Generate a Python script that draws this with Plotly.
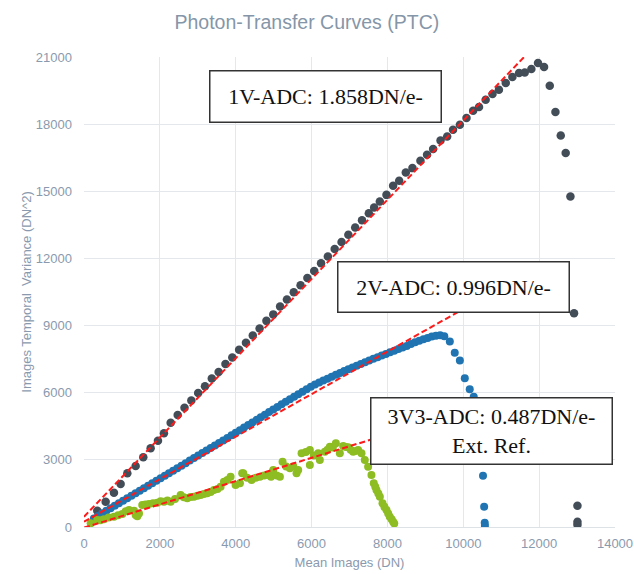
import plotly.graph_objects as go

# ---- data ----
v1_x = [350, 571, 790, 966, 1142, 1362, 1563, 1757, 1950, 2108,
        2285, 2470, 2650, 2830, 3010, 3190, 3370, 3550, 3730, 3910,
        4090, 4270, 4450, 4630, 4810, 4990, 5170, 5350, 5530, 5710,
        5890, 6070, 6250, 6430, 6610, 6790, 6970, 7150, 7330, 7510,
        7650, 7800, 7975, 8150, 8310, 8485, 8660, 8870, 9045, 9205,
        9400, 9575, 9730, 9910, 10085, 10260, 10415, 10590, 10770, 10940,
        11120, 11295, 11470, 11620, 11795, 11970, 12130, 12280, 12430, 12570,
        12700, 12825, 12920, 13010, 13010, 13010]
v1_y = [729, 1131, 1534, 1922, 2400, 2727, 3116, 3518, 3858, 4189,
        4663, 5000, 5330, 5650, 5990, 6290, 6640, 6930, 7280, 7570,
        7920, 8230, 8560, 8870, 9210, 9500, 9850, 10160, 10490, 10800,
        11130, 11440, 11780, 12090, 12420, 12730, 13060, 13380, 13710, 14020,
        14280, 14545, 14840, 15245, 15470, 15840, 16035, 16365, 16630, 16885,
        17270, 17450, 17750, 17975, 18270, 18600, 18765, 19090, 19345, 19540,
        19840, 20105, 20285, 20310, 20465, 20730, 20550, 19715, 18540, 17495,
        16710, 14765, 9555, 950, 237, 100]

v2_x = [260, 370, 480, 590, 700, 810, 920, 1030, 1140, 1250,
        1360, 1470, 1580, 1690, 1800, 1910, 2020, 2130, 2240, 2350,
        2460, 2570, 2680, 2790, 2900, 3010, 3120, 3230, 3340, 3450,
        3560, 3670, 3780, 3890, 4000, 4110, 4220, 4330, 4440, 4550,
        4660, 4770, 4880, 4990, 5100, 5210, 5320, 5430, 5540, 5650,
        5760, 5870, 5980, 6090, 6200, 6310, 6420, 6530, 6640, 6750,
        6860, 6970, 7080, 7190, 7300, 7410, 7520, 7630, 7740, 7850,
        7960, 8070, 8180, 8290, 8400, 8510, 8620, 8730, 8840, 8950,
        9060, 9170, 9280, 9390, 9500, 9645, 9775, 9910, 10040, 10170,
        10275, 10330, 10400, 10460, 10520, 10550, 10565, 10570]
v2_y = [385, 497, 609, 722, 834, 946, 1058, 1170, 1283, 1395,
        1507, 1619, 1731, 1844, 1956, 2068, 2180, 2292, 2405, 2517,
        2629, 2741, 2853, 2966, 3078, 3190, 3302, 3414, 3527, 3639,
        3751, 3863, 3979, 4094, 4210, 4325, 4441, 4556, 4672, 4787,
        4903, 5018, 5134, 5249, 5365, 5480, 5596, 5711, 5825, 5935,
        6045, 6155, 6265, 6370, 6456, 6542, 6628, 6714, 6800, 6886,
        6972, 7050, 7127, 7204, 7281, 7358, 7435, 7512, 7589, 7660,
        7735, 7810, 7880, 7950, 8020, 8085, 8180, 8250, 8320, 8390,
        8450, 8510, 8550, 8570, 8520, 8285, 7790, 7435, 6650, 6160,
        5825, 5200, 4300, 3300, 2295, 910, 190, 60]

v33_x = [176, 350, 430, 527, 650, 790, 900, 1010, 1100, 1186,
         1318, 1362, 1406, 1450, 1536, 1620, 1713, 1820, 1932, 2020,
         2108, 2200, 2284, 2400, 2548, 2630, 2722, 2810, 2898, 2990,
         3075, 3160, 3250, 3340, 3425, 3520, 3602, 3689, 3780, 3865,
         3997, 4111, 4171, 4199, 4300, 4418, 4530, 4638, 4750, 4857,
         4930, 4989, 5080, 5165, 5235, 5330, 5428, 5520, 5604, 5647,
         5736, 5850, 5955, 5955, 6060, 6175, 6218, 6350, 6420, 6482,
         6560, 6640, 6745, 6833, 6900, 6965, 7030, 7096, 7160, 7228,
         7316, 7403, 7491, 7579, 7640, 7680, 7711, 7760, 7800, 7870,
         7920, 7975, 8020, 8062, 8110, 8150, 8180]
v33_y = [164, 313, 300, 344, 420, 460, 530, 581, 700, 760,
         729, 537, 480, 600, 984, 1000, 1028, 1060, 1087, 1150,
         1131, 1180, 1131, 1250, 1431, 1330, 1283, 1340, 1355, 1400,
         1431, 1480, 1507, 1560, 1654, 1700, 1802, 2025, 2100, 2249,
         1878, 1954, 2400, 2400, 2200, 2101, 2200, 2249, 2300, 2325,
         2250, 2548, 2300, 2249, 2920, 2700, 2624, 2700, 2400, 2548,
         3295, 3350, 3443, 2772, 3200, 3295, 2996, 3367, 3450, 3590,
         3550, 3742, 3295, 3622, 3580, 3563, 3450, 3367, 3400, 3443,
         3295, 2996, 2696, 2325, 1954, 1800, 1654, 1500, 1355, 1060,
         900, 760, 600, 460, 350, 237, 160]

fit1_x = [0, 11700]
fit1_y = [460, 21170]
fit2_x = [0, 10500]
fit2_y = [237, 10212]
fit33_x = [0, 8800]
fit33_y = [-30, 4546]

labels = ["1V-ADC: 1.858DN/e-", "2V-ADC: 0.996DN/e-", "3V3-ADC: 0.487DN/e-<br>Ext. Ref."]
x_ticks = [0, 2000, 4000, 6000, 8000, 10000, 12000, 14000]
y_ticks = [0, 3000, 6000, 9000, 12000, 15000, 18000, 21000]

DARK = "#434d58"
BLUE = "#1f74b1"
GREEN = "#8dbd22"
RED = "#ff1a1a"
AXC = "#8a9aae"

fig = go.Figure()
fig.add_trace(go.Scatter(x=v1_x, y=v1_y, mode="markers",
                         marker=dict(color=DARK, size=8.5), showlegend=False))
fig.add_trace(go.Scatter(x=v2_x, y=v2_y, mode="markers",
                         marker=dict(color=BLUE, size=8), showlegend=False))
fig.add_trace(go.Scatter(x=v33_x, y=v33_y, mode="markers",
                         marker=dict(color=GREEN, size=8), showlegend=False))
for fx, fy in [(fit1_x, fit1_y), (fit2_x, fit2_y), (fit33_x, fit33_y)]:
    fig.add_trace(go.Scatter(x=fx, y=fy, mode="lines",
                             line=dict(color=RED, width=2, dash="6px,3px"),
                             showlegend=False))

box_pos = [(0.4557, 0.9149, 228, 48), (0.695, 0.5096, 228, 47), (0.7665, 0.2053, 238, 63)]
for txt, (bx, by, bw, bh) in zip(labels, box_pos):
    fig.add_annotation(x=bx, y=by, xref="paper", yref="paper",
                       xanchor="center", yanchor="middle",
                       text=txt, showarrow=False, align="center",
                       width=bw, height=bh, valign="middle",
                       font=dict(family="Liberation Serif", size=22, color="#111111"),
                       bgcolor="white", bordercolor="#333333", borderwidth=1.5, borderpad=1)

fig.update_layout(
    width=634, height=574,
    margin=dict(l=84, r=19, t=57, b=47),
    paper_bgcolor="white", plot_bgcolor="white",
    font=dict(family="Liberation Sans", color=AXC),
    title=dict(text="Photon-Transfer Curves (PTC)", x=0.484, xref="container",
               y=0.962, yref="container", yanchor="middle", xanchor="center",
               font=dict(size=19.5, color="#8596a8")),
    xaxis=dict(range=[0, 14000], tickvals=x_ticks, ticktext=[str(v) for v in x_ticks],
               showgrid=True, gridcolor="#e4e8ec", gridwidth=1, zeroline=False,
               showline=True, linecolor="#dde2e7", automargin=False,
               tickfont=dict(size=13, color=AXC), ticklabelstandoff=4,
               title=dict(text="Mean Images (DN)", font=dict(size=13, color=AXC), standoff=8)),
    yaxis=dict(range=[0, 21000], tickvals=y_ticks, ticktext=[str(v) for v in y_ticks],
               showgrid=True, gridcolor="#e4e8ec", gridwidth=1, zeroline=False, showline=False,
               automargin=False,
               tickfont=dict(size=13, color=AXC), ticklabelstandoff=11,
               title=dict(text="Images Temporal  Variance (DN^2)", font=dict(size=13, color=AXC), standoff=1)),
)

fig.write_html("out.html")
